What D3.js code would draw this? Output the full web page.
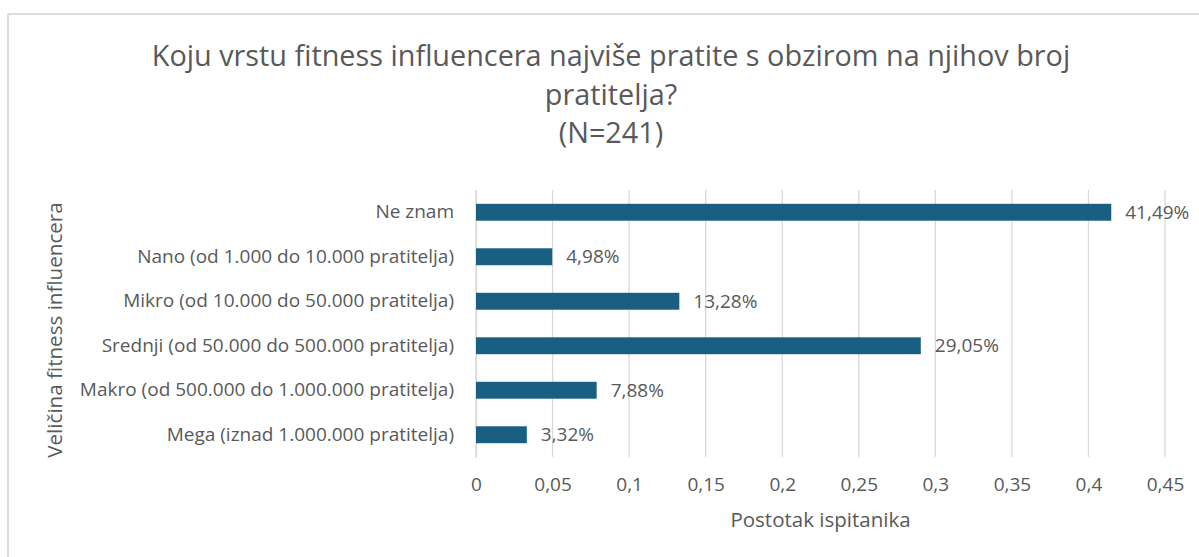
<!DOCTYPE html>
<html>
<head>
<meta charset="utf-8">
<script src="https://cdn.jsdelivr.net/npm/d3@7"></script>
<style>
  body { margin: 0; background: #fff; }
  text { font-family: "Open Sans", Roboto, sans-serif; fill: #595959; }
</style>
</head>
<body>
<div id="chart"></div>
<script>
var categories = [
  "Ne znam",
  "Nano (od 1.000 do 10.000 pratitelja)",
  "Mikro (od 10.000 do 50.000 pratitelja)",
  "Srednji (od 50.000 do 500.000 pratitelja)",
  "Makro (od 500.000 do 1.000.000 pratitelja)",
  "Mega (iznad 1.000.000 pratitelja)"
];
var values = [0.4149, 0.0498, 0.1328, 0.2905, 0.0788, 0.0332];
var ticks = [0, 0.05, 0.1, 0.15, 0.2, 0.25, 0.3, 0.35, 0.4, 0.45];
var titleLines = [
  "Koju vrstu fitness influencera najviše pratite s obzirom na njihov broj",
  "pratitelja?",
  "(N=241)"
];

var W = 1199, H = 557;
var margin = { top: 190, right: 34, bottom: 100, left: 476 },
  width = W - margin.left - margin.right,
  height = H - margin.top - margin.bottom;

var svg = d3.select("#chart").append("svg")
  .attr("width", W)
  .attr("height", H);

// frame (only top and left edges visible)
svg.append("line").attr("x1", 8).attr("x2", W).attr("y1", 14).attr("y2", 14)
  .attr("stroke", "#dcdcdc").attr("stroke-width", 2);
svg.append("line").attr("x1", 8).attr("x2", 8).attr("y1", 14).attr("y2", H)
  .attr("stroke", "#dcdcdc").attr("stroke-width", 2);

// title
var titleY = [66, 105, 143];
svg.append("text")
  .attr("text-anchor", "middle")
  .style("font-size", "28.8px")
  .selectAll("tspan")
  .data(titleLines)
  .enter().append("tspan")
  .attr("x", 611)
  .attr("y", function(d, i) { return titleY[i]; })
  .text(function(d) { return d; });

var g = svg.append("g")
  .attr("transform", "translate(" + margin.left + "," + margin.top + ")");

var x = d3.scaleLinear().domain([0, 0.45]).range([0, 689]);
var y = d3.scaleBand().domain(categories).range([0, height]).paddingInner(0.62).paddingOuter(0.31);

var fmt = function(d) { return String(d).replace(".", ","); };

// gridlines
g.append("g")
  .selectAll("line")
  .data(ticks)
  .enter().append("line")
  .attr("x1", function(d) { return x(d); })
  .attr("x2", function(d) { return x(d); })
  .attr("y1", 0)
  .attr("y2", height)
  .attr("stroke", "#d9d9d9")
  .attr("stroke-width", 1.3);

// x axis
var xAxis = g.append("g")
  .attr("transform", "translate(0," + height + ")")
  .call(d3.axisBottom(x).tickValues(ticks).tickFormat(fmt).tickSize(0).tickPadding(21));
xAxis.select(".domain").remove();
xAxis.selectAll("text").style("font-size", "19px").attr("fill", "#595959");

// y axis
var yAxis = g.append("g")
  .call(d3.axisLeft(y).tickSize(0).tickPadding(22));
yAxis.select(".domain").attr("stroke", "#d9d9d9").attr("stroke-width", 1.3);
yAxis.selectAll("text").style("font-size", "19px").attr("fill", "#595959");

// bars
g.selectAll(".bar")
  .data(values)
  .enter().append("rect")
  .attr("class", "bar")
  .attr("x", 0)
  .attr("y", function(d, i) { return y(categories[i]); })
  .attr("width", function(d) { return x(d); })
  .attr("height", y.bandwidth())
  .attr("fill", "#185f81");

// value labels
g.selectAll(".lbl")
  .data(values)
  .enter().append("text")
  .attr("class", "lbl")
  .attr("x", function(d) { return x(d) + 14; })
  .attr("y", function(d, i) { return y(categories[i]) + y.bandwidth() / 2; })
  .attr("dy", "0.35em")
  .style("font-size", "19px")
  .text(function(d) { return (d * 100).toFixed(2).replace(".", ",") + "%"; });

// axis titles
svg.append("text")
  .attr("x", margin.left + x(0.45) / 2)
  .attr("y", 527)
  .attr("text-anchor", "middle")
  .style("font-size", "20.5px")
  .text("Postotak ispitanika");

svg.append("text")
  .attr("transform", "translate(62,330) rotate(-90)")
  .attr("text-anchor", "middle")
  .style("font-size", "20.6px")
  .text("Veličina fitness influencera");
</script>
</body>
</html>
